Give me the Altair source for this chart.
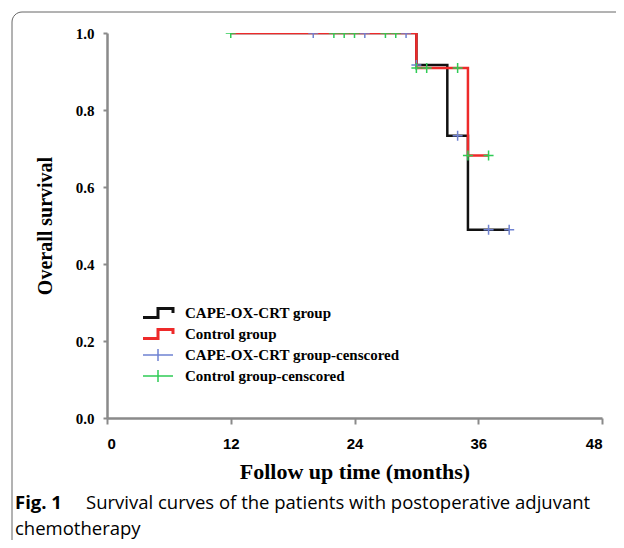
import altair as alt
import pandas as pd

# ---- data ----
black_t = [12, 30, 33, 35, 39]
black_s = [1.0, 0.917, 0.733, 0.489, 0.489]
red_t = [12, 30, 35, 37]
red_s = [1.0, 0.909, 0.682, 0.682]
blue_cens_t = [20, 25, 29, 30, 34, 37, 39]
blue_cens_s = [1.0, 1.0, 1.0, 0.917, 0.733, 0.489, 0.489]
green_cens_t = [12, 22, 23, 24, 27, 28, 30, 31, 34, 35, 37]
green_cens_s = [1.0, 1.0, 1.0, 1.0, 1.0, 1.0, 0.909, 0.909, 0.909, 0.682, 0.682]
x_ticks = [0, 12, 24, 36, 48]
y_ticks = [0.0, 0.2, 0.4, 0.6, 0.8, 1.0]
legend_labels = ["CAPE-OX-CRT group", "Control group",
                 "CAPE-OX-CRT group-censcored", "Control group-censcored"]
legend_colors = ["#111111", "#ee2a2a", "#6f82d2", "#2fcc55"]
caption_bold = "Fig. 1"
caption_line1 = "Survival curves of the patients with postoperative adjuvant"
caption_line2 = "chemotherapy"

W, H = 495, 385
STEP = "M-1,0.3L0,0.3L0,-0.3L1,-0.3L1,0"
CROSS_LEG = "M-1,0L1,0M0,-0.4L0,0.4"
CROSS = "M-1,0L1,0M0,-1L0,1"

lines = pd.concat([
    pd.DataFrame({"t": black_t, "s": black_s, "g": "CAPE-OX-CRT group"}),
    pd.DataFrame({"t": red_t, "s": red_s, "g": "Control group"}),
])
blue = pd.DataFrame({"t": blue_cens_t, "s": blue_cens_s})
green = pd.DataFrame({"t": green_cens_t, "s": green_cens_s})
one = pd.DataFrame({"a": [0]})

xs = alt.Scale(domain=[0, 48], nice=False, zero=False)
ys = alt.Scale(domain=[0, 1], nice=False)

x_axis = alt.Axis(values=x_ticks, title="Follow up time (months)", grid=False,
                  labelFont="Liberation Sans", labelFontWeight="bold", labelFontSize=15,
                  labelColor="#000", tickSize=6, tickColor="#8a8a8a", tickWidth=2,
                  domainColor="#8a8a8a", domainWidth=2.5, labelPadding=12,
                  titleFont="Liberation Serif", titleFontWeight="bold", titleFontSize=22,
                  titleColor="#000", titlePadding=10)
y_axis = alt.Axis(values=y_ticks, format=".1f", title="Overall survival", grid=False,
                  labelFont="Liberation Serif", labelFontWeight="bold", labelFontSize=15,
                  labelColor="#000", tickSize=4, tickColor="#8a8a8a", tickWidth=2,
                  domainColor="#8a8a8a", domainWidth=2.5, labelPadding=9,
                  titleFont="Liberation Serif", titleFontWeight="bold", titleFontSize=20,
                  titleColor="#000", titlePadding=20)

frame = alt.Chart(one).mark_rect(filled=False, stroke="#666666", strokeWidth=1,
                                  cornerRadiusTopLeft=10).encode(
    x=alt.value(-95), x2=alt.value(800), y=alt.value(-21), y2=alt.value(800))

line_layer = alt.Chart(lines).mark_line(interpolate="step-after", strokeWidth=2.5,
                                        clip=True).encode(
    x=alt.X("t:Q", scale=xs, axis=x_axis),
    y=alt.Y("s:Q", scale=ys, axis=y_axis),
    color=alt.Color("g:N", scale=alt.Scale(domain=legend_labels[:2],
                                           range=legend_colors[:2]), legend=None),
    order=alt.Order("t:Q"),
)

blue_layer = alt.Chart(blue).mark_point(shape=CROSS, size=100, filled=False,
                                        strokeWidth=1.5, color=legend_colors[2],
                                        opacity=1, clip=True).encode(
    x=alt.X("t:Q", scale=xs), y=alt.Y("s:Q", scale=ys))
green_layer = alt.Chart(green).mark_point(shape=CROSS, size=100, filled=False,
                                          strokeWidth=1.5, color=legend_colors[3],
                                          opacity=1, clip=True).encode(
    x=alt.X("t:Q", scale=xs), y=alt.Y("s:Q", scale=ys))

legend_layers = []
for i, (lab, col) in enumerate(zip(legend_labels, legend_colors)):
    yy = 280 + i * 21
    shp = STEP if i < 2 else CROSS_LEG
    sw = 3 if i < 2 else 1.5
    legend_layers.append(alt.Chart(one).mark_point(shape=shp, size=900, filled=False,
                                                   strokeWidth=sw, color=col, opacity=1).encode(
        x=alt.value(51), y=alt.value(yy)))
    legend_layers.append(alt.Chart(one).mark_text(text=lab, align="left", baseline="middle",
                                                  font="Liberation Serif", fontWeight="bold",
                                                  fontSize=15, color="#000").encode(
        x=alt.value(78), y=alt.value(yy)))

cap1b = alt.Chart(one).mark_text(text=caption_bold, align="left", baseline="alphabetic",
                                 font="Open Sans", fontWeight="bold", fontSize=18.5,
                                 color="#000").encode(x=alt.value(-92), y=alt.value(476))
cap1 = alt.Chart(one).mark_text(text=caption_line1, align="left", baseline="alphabetic",
                                font="Open Sans", fontSize=18.5, color="#000").encode(
    x=alt.value(-21), y=alt.value(476))
cap2 = alt.Chart(one).mark_text(text=caption_line2, align="left", baseline="alphabetic",
                                font="Open Sans", fontSize=18.5, color="#000").encode(
    x=alt.value(-92), y=alt.value(502))

chart = alt.layer(frame, line_layer, blue_layer, green_layer, *legend_layers,
                  cap1b, cap1, cap2).properties(
    width=W, height=H,
    background="white",
    autosize=alt.AutoSizeParams(type="none"),
    padding={"left": 99, "top": 25, "right": 14, "bottom": 122},
).configure_view(stroke=None)

chart.save("out.html", embed_options={"renderer": "svg", "actions": False})
